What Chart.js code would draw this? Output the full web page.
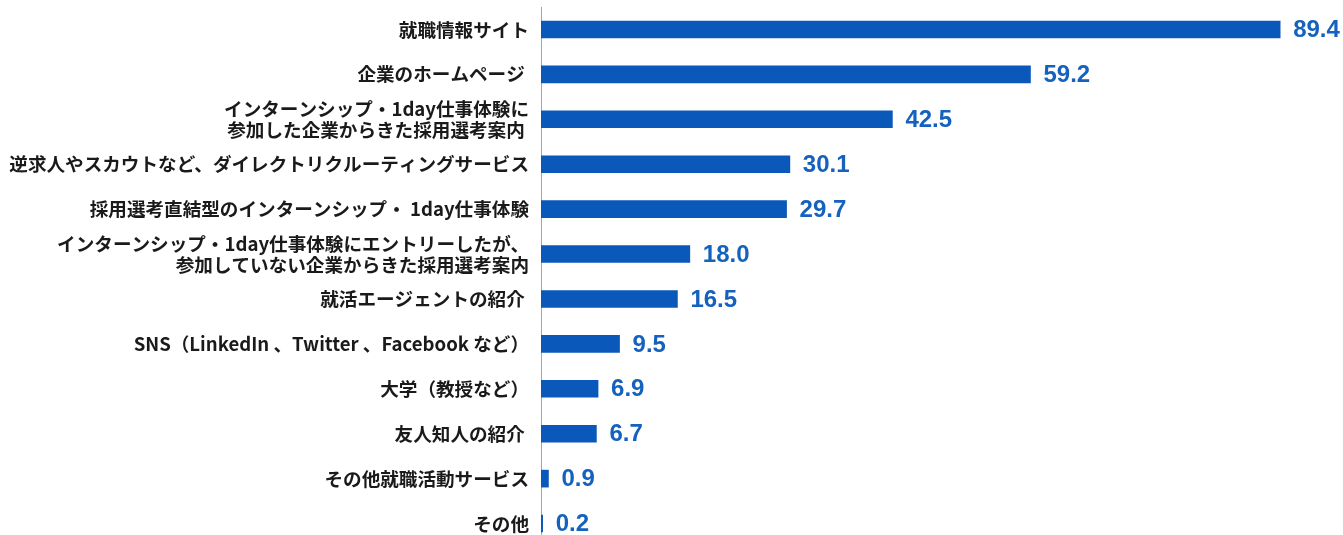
<!DOCTYPE html>
<html>
<head>
<meta charset="utf-8">
<script src="https://cdn.jsdelivr.net/npm/chart.js@4.4.0/dist/chart.umd.min.js"></script>
<style>
html,body{margin:0;padding:0;background:#fff;overflow:hidden;width:1343px;height:535px;}
#wrap{position:relative;width:1343px;height:546px;}
</style>
</head>
<body>
<div id="wrap"><canvas id="c" width="1343" height="546"></canvas></div>
<script>
const categories = [
  ["就職情報サイト"],
  ["企業のホームページ "],
  ["インターンシップ・1day仕事体験に", "参加した企業からきた採用選考案内 "],
  ["逆求人やスカウトなど、ダイレクトリクルーティングサービス"],
  ["採用選考直結型のインターンシップ・ 1day仕事体験"],
  ["インターンシップ・1day仕事体験にエントリーしたが、", "参加していない企業からきた採用選考案内"],
  ["就活エージェントの紹介 "],
  ["SNS（LinkedIn 、Twitter 、Facebook など）"],
  ["大学（教授など）"],
  ["友人知人の紹介 "],
  ["その他就職活動サービス"],
  ["その他"]
];
const values = [89.4, 59.2, 42.5, 30.1, 29.7, 18.0, 16.5, 9.5, 6.9, 6.7, 0.9, 0.2];
const valueLabels = ["89.4","59.2","42.5","30.1","29.7","18.0","16.5","9.5","6.9","6.7","0.9","0.2"];

const BAR = '#0A58BA';
const TXT = '#1562BE';

const valuePlugin = {
  id: 'valuePlugin',
  afterDatasetsDraw(chart) {
    const ctx = chart.ctx;
    const meta = chart.getDatasetMeta(0);
    ctx.save();
    ctx.font = 'bold 24px "Liberation Sans", Arial, sans-serif';
    ctx.fillStyle = TXT;
    ctx.textAlign = 'left';
    ctx.textBaseline = 'middle';
    meta.data.forEach((bar, i) => {
      ctx.fillText(valueLabels[i], bar.x + 13, bar.y + 1);
    });
    ctx.restore();
  }
};

new Chart(document.getElementById('c'), {
  type: 'bar',
  data: {
    labels: categories,
    datasets: [{
      data: values,
      backgroundColor: BAR,
      borderWidth: 0,
      barThickness: 17
    }]
  },
  options: {
    indexAxis: 'y',
    responsive: false,
    animation: false,
    layout: { padding: { top: 7, bottom: 0, left: 0, right: 0 } },
    plugins: { legend: { display: false }, tooltip: { enabled: false } },
    scales: {
      x: {
        display: false,
        min: 0,
        max: 97
      },
      y: {
        afterFit(scale) {
          scale.width = 541;
          scale.paddingTop = 0;
          scale.paddingBottom = 0;
        },
        grid: { display: false, drawTicks: false },
        border: { display: true, color: '#A6A6A6', width: 1 },
        ticks: {
          autoSkip: false,
          padding: 12,
          color: '#1a1a1a',
          font: { family: '"Noto Sans CJK JP", sans-serif', size: 18.6, weight: 'bold', lineHeight: 1.13 },
          crossAlign: 'near'
        }
      }
    }
  },
  plugins: [valuePlugin]
});
</script>
</body>
</html>
